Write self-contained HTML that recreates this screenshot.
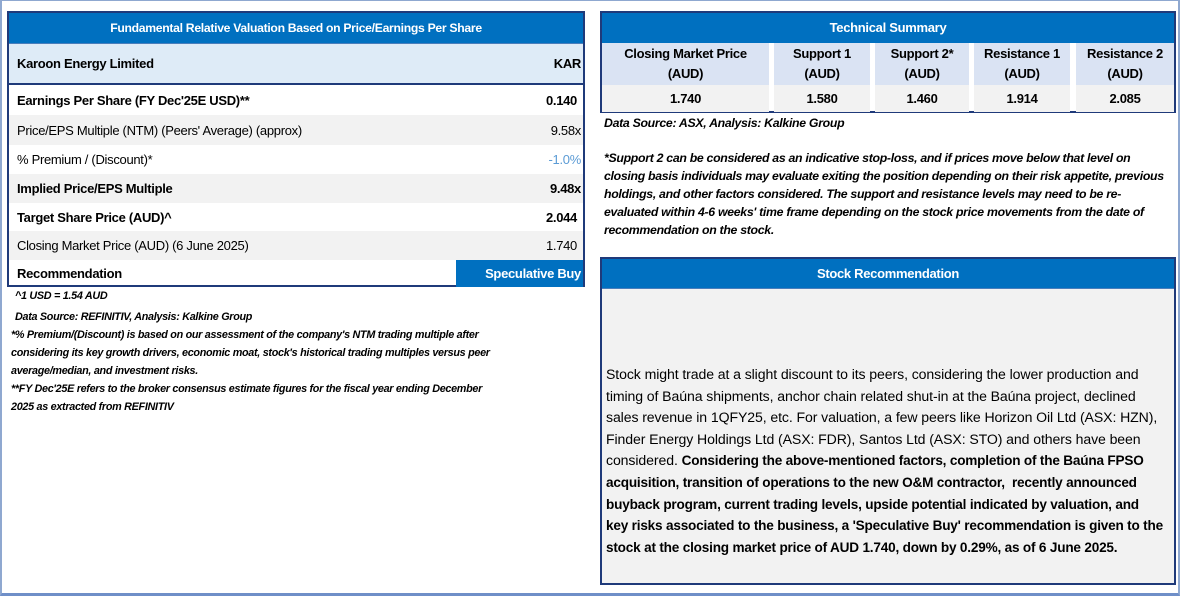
<!DOCTYPE html>
<html><head><meta charset="utf-8"><style>
*{margin:0;padding:0;box-sizing:border-box}
body{width:1180px;height:596px;background:#fff;font-family:"Liberation Sans",sans-serif;color:#000;position:relative;overflow:hidden;letter-spacing:-0.3px}
.frame{position:absolute;left:0;top:0;width:1180px;height:596px;border:2px solid #8fa8d0;border-bottom:3px solid #6f8fc8;border-top:1px solid #8fa8d0}
.abs{position:absolute;white-space:nowrap}
.hdr{background:#0070c0;color:#fff;font-weight:bold;font-size:13px;text-align:center}
.lt{position:absolute;left:7px;top:11px;width:578px;height:276px;border:2px solid #1f3a7a}
.row{position:absolute;left:0;width:574px;font-size:13px;display:flex;align-items:center;padding-left:8px}
.row .v{position:absolute;right:6px}
.g{background:#f2f2f2}
.b{font-weight:bold}
.it{font-style:italic;font-size:10.8px;font-weight:bold;line-height:18px}
.it2{font-style:italic;font-size:12.3px;font-weight:bold;line-height:18px}
.rt{position:absolute;left:600px;top:11px;width:576px;height:102px;border:2px solid #1f3a7a;background:#fff}
.c{position:absolute;text-align:center;font-size:13px}
.hc{background:#dae3f3;top:30px;height:42px;line-height:20px;padding-top:1px}
.vc{background:#f2f2f2;top:72px;height:27px;line-height:27px;font-weight:bold}
.sr{position:absolute;left:600px;top:257px;width:576px;height:328px;border:2px solid #1f3a7a;background:#f2f2f2}
.sr b{font-size:13.6px;letter-spacing:-0.2px;line-height:1}
</style></head><body>
<div class="frame"></div>

<div class="lt">
  <div class="hdr" style="position:absolute;left:0;top:0;width:574px;height:30px;line-height:30px;font-size:12.2px">Fundamental Relative Valuation Based on Price/Earnings Per Share</div>
  <div class="row b" style="top:30px;height:42px;background:#deebf7;border-top:1px solid #4a7ebb;border-bottom:2px solid #1f3a7a">Karoon Energy Limited<span class="v" style="right:2px">KAR</span></div>
  <div class="row b" style="top:72px;height:30px">Earnings Per Share (FY Dec'25E USD)**<span class="v">0.140</span></div>
  <div class="row g" style="top:102px;height:30px">Price/EPS Multiple (NTM) (Peers' Average) (approx)<span class="v" style="right:2px">9.58x</span></div>
  <div class="row" style="top:132px;height:29px">% Premium / (Discount)*<span class="v" style="right:2px;color:#5b9bd5">-1.0%</span></div>
  <div class="row g b" style="top:161px;height:29px">Implied Price/EPS Multiple<span class="v" style="right:2px">9.48x</span></div>
  <div class="row b" style="top:190px;height:28px">Target Share Price (AUD)^<span class="v">2.044</span></div>
  <div class="row g" style="top:218px;height:29px">Closing Market Price (AUD) (6 June 2025)<span class="v">1.740</span></div>
  <div class="row b" style="top:247px;height:27px">Recommendation</div>
  <div class="hdr" style="position:absolute;left:447px;top:247px;width:127px;height:27px;line-height:27px;font-size:13px;text-align:right;padding-right:2px">Speculative Buy</div>
</div>

<div class="abs it" style="left:15px;top:287px">^1 USD = 1.54 AUD</div>
<div class="abs it" style="left:15px;top:308px">Data Source: REFINITIV, Analysis: Kalkine Group</div>
<div class="abs it" style="left:11px;top:326px">*% Premium/(Discount) is based on our assessment of the company's NTM trading multiple after<br>considering its key growth drivers, economic moat, stock's historical trading multiples versus peer<br>average/median, and investment risks.<br>**FY Dec'25E refers to the broker consensus estimate figures for the fiscal year ending December<br>2025 as extracted from REFINITIV</div>

<div class="rt">
  <div class="hdr" style="position:absolute;left:0;top:0;width:572px;height:30px;line-height:30px">Technical Summary</div>
  <div class="c hc b" style="left:0;width:167px">Closing Market Price<br>(AUD)</div>
  <div class="c hc b" style="left:172px;width:96px">Support 1<br>(AUD)</div>
  <div class="c hc b" style="left:273px;width:94px">Support 2*<br>(AUD)</div>
  <div class="c hc b" style="left:372px;width:96px">Resistance 1<br>(AUD)</div>
  <div class="c hc b" style="left:474px;width:98px">Resistance 2<br>(AUD)</div>
  <div class="c vc" style="left:0;width:167px">1.740</div>
  <div class="c vc" style="left:172px;width:96px">1.580</div>
  <div class="c vc" style="left:273px;width:94px">1.460</div>
  <div class="c vc" style="left:372px;width:96px">1.914</div>
  <div class="c vc" style="left:474px;width:98px">2.085</div>
</div>

<div class="abs it2" style="left:604px;top:114px">Data Source: ASX, Analysis: Kalkine Group</div>
<div class="abs it2" style="left:604px;top:149px">*Support 2 can be considered as an indicative stop-loss, and if prices move below that level on<br>closing basis individuals may evaluate exiting the position depending on their risk appetite, previous<br>holdings, and other factors considered. The support and resistance levels may need to be re-<br>evaluated within 4-6 weeks' time frame depending on the stock price movements from the date of<br>recommendation on the stock.</div>

<div class="sr">
  <div class="hdr" style="position:absolute;left:0;top:0;width:572px;height:30px;line-height:30px;border-bottom:1px solid #4a7ebb">Stock Recommendation</div>
  <div class="abs" style="left:4px;top:105px;font-size:14.1px;line-height:21.6px;letter-spacing:-0.1px">Stock might trade at a slight discount to its peers, considering the lower production and<br>timing of Baúna shipments, anchor chain related shut-in at the Baúna project, declined<br>sales revenue in 1QFY25, etc. For valuation, a few peers like Horizon Oil Ltd (ASX: HZN),<br>Finder Energy Holdings Ltd (ASX: FDR), Santos Ltd (ASX: STO) and others have been<br>considered. <b>Considering the above-mentioned factors, completion of the Baúna FPSO<br>acquisition, transition of operations to the new O&amp;M contractor,&nbsp; recently announced<br>buyback program, current trading levels, upside potential indicated by valuation, and<br>key risks associated to the business, a 'Speculative Buy' recommendation is given to the<br>stock at the closing market price of AUD 1.740, down by 0.29%, as of 6 June 2025.</b></div>
</div>
</body></html>
